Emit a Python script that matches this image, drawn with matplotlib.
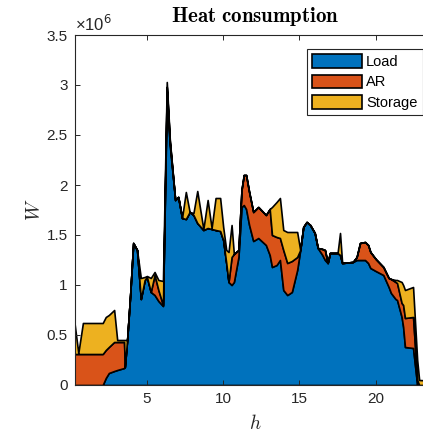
import matplotlib
matplotlib.use("Agg")
import matplotlib.pyplot as plt
import numpy as np

# Time breakpoints (h) and series values (x10^6 W)
hours = [0.25, 0.5, 0.8, 2.1, 2.3, 2.5, 2.85, 3.05, 3.5, 3.55, 3.7, 3.9, 4.1, 4.35,
         4.6, 4.85, 5.0, 5.25, 5.5, 5.75, 6.05, 6.3, 6.5, 6.85, 7.05, 7.3, 7.55, 7.8,
         8.05, 8.3, 8.7, 8.98, 9.24, 9.5, 9.8, 10.0, 10.2, 10.35, 10.55, 10.7, 11.0,
         11.2, 11.35, 11.5, 11.7, 11.97, 12.3, 12.8, 13.05, 13.2, 13.5, 13.72, 13.94,
         14.2, 14.5, 14.85, 15.05, 15.25, 15.47, 15.7, 16.0, 16.2, 16.5, 16.67, 16.85,
         17.0, 17.5, 17.66, 17.8, 18.5, 18.75, 18.97, 19.3, 19.5, 19.65, 20.0, 20.5,
         20.85, 21.0, 21.3, 21.4, 21.7, 21.8, 21.92, 22.45, 22.72, 22.85, 24.0]
load = [0, 0, 0, 0, 0.07, 0.12, 0.14, 0.15, 0.17, 0.18, 0.45, 0.90, 1.42, 1.35,
        0.86, 1.05, 1.08, 0.93, 0.90, 0.84, 0.79, 2.88, 2.40, 1.85, 1.88, 1.67, 1.66, 1.73,
        1.70, 1.62, 1.55, 1.57, 1.56, 1.55, 1.54, 1.45, 1.22, 1.03, 1.00, 1.03, 1.28,
        1.78, 1.80, 1.76, 1.60, 1.44, 1.47, 1.40, 1.30, 1.18, 1.20, 1.25, 0.95,
        0.90, 0.93, 1.15, 1.35, 1.58, 1.63, 1.60, 1.52, 1.37, 1.30, 1.25, 1.22,
        1.32, 1.32, 1.30, 1.22, 1.23, 1.25, 1.25, 1.25, 1.22, 1.17, 1.14, 1.10,
        0.98, 0.92, 0.86, 0.85, 0.68, 0.58, 0.38, 0.37, 0, 0, 0]
ar = [0.31, 0.31, 0.31, 0.31, 0.28, 0.26, 0.29, 0.28, 0.26, 0, 0, 0, 0, 0,
      0, 0, 0, 0, 0.20, 0.11, 0.01, 0.10, 0.03, 0, 0, 0, 0, 0,
      0, 0, 0, 0, 0, 0, 0, 0, 0, 0, 0.28, 0.28, 0.07,
      0.17, 0.30, 0.34, 0.33, 0.29, 0.31, 0.30, 0.46, 0.32, 0.28, 0.22, 0.40,
      0.32, 0.31, 0.13, 0, 0, 0, 0, 0, 0, 0.06, 0.10, 0,
      0, 0, 0, 0, 0, 0.03, 0.17, 0.18, 0.18, 0.16, 0.12, 0.08,
      0.09, 0.14, 0.17, 0.17, 0.14, 0.22, 0.29, 0.31, 0.05, 0, 0]
storage = [0.31, 0.01, 0.31, 0.31, 0.33, 0.32, 0.32, 0.02, 0.02, 0.27, 0, 0, 0, 0,
           0.21, 0.03, 0.01, 0.14, 0.03, 0.10, 0.24, 0.05, 0.02, 0, 0, 0, 0.27, 0,
           0.02, 0.32, 0.01, 0.28, 0.01, 0.32, 0.33, 0.13, 0.13, 0.30, 0.32, 0, 0,
           0, 0, 0, 0, 0, 0, 0, 0, 0.28, 0.35, 0.40, 0.20,
           0.31, 0.29, 0.25, 0, 0, 0, 0, 0, 0, 0, 0, 0,
           0, 0, 0.22, 0, 0, 0, 0, 0, 0, 0, 0, 0,
           0, 0, 0.02, 0.03, 0.21, 0.20, 0.28, 0.30, 0.20, 0.05, 0.04]
SCALE = 1e6
series_names = ["Load", "AR", "Storage"]
colors = ["#0072BD", "#D95319", "#EDB120"]
yticks = [0, 0.5, 1, 1.5, 2, 2.5, 3, 3.5]
xticks = [5, 10, 15, 20]

W, H = 423, 434
fig = plt.figure(figsize=(W / 100, H / 100), dpi=100)
left, right, top, bottom = 74.5, 436.7, 35, 385
ax = fig.add_axes([left / W, (H - bottom) / H, (right - left) / W, (bottom - top) / H])

t = np.array(hours)
vals = [np.array(load) * SCALE, np.array(ar) * SCALE, np.array(storage) * SCALE]
polys = ax.stackplot(t, *vals, labels=series_names, colors=colors,
                     edgecolor="black", linewidth=1.2)

ax.set_xlim(0.25, 24)
ax.set_ylim(0, 3.5 * SCALE)
ax.set_xticks(xticks)
ax.set_xticklabels([str(v) for v in xticks])
ax.set_yticks([v * SCALE for v in yticks])
ax.set_yticklabels([("%g" % v) for v in yticks])

tickcol = "#262626"
for s in ax.spines.values():
    s.set_color(tickcol)
    s.set_linewidth(0.8)
ax.tick_params(direction="in", length=3.5, width=0.7, colors=tickcol,
               top=True, right=True, labelsize=11, pad=5)
for lab in ax.get_xticklabels() + ax.get_yticklabels():
    lab.set_family("Liberation Sans")

ax.text(0.0, 1.004, "×10$^{6}$", transform=ax.transAxes, ha="left", va="bottom",
        fontsize=12, color=tickcol, family="Liberation Sans", math_fontfamily="dejavusans")

ax.set_title(r"$\mathbf{Heat\ consumption}$", fontsize=15, pad=9, math_fontfamily="cm")
ax.set_xlabel(r"$h$", fontsize=14, math_fontfamily="cm", color=tickcol, labelpad=6)
ax.set_ylabel(r"$W$", fontsize=14, math_fontfamily="cm", color=tickcol, labelpad=2)

leg = ax.legend(loc="upper right", bbox_to_anchor=(422.5 / W, (H - 49) / H),
                bbox_transform=fig.transFigure, borderaxespad=0, fancybox=False,
                framealpha=1, edgecolor=tickcol,
                handlelength=3.4, handleheight=1.05, handletextpad=0.3,
                labelspacing=0.4, borderpad=0.35,
                prop={"family": "Liberation Sans", "size": 10.5})
leg.get_frame().set_linewidth(0.8)

fig.savefig("out.png", dpi=100)
